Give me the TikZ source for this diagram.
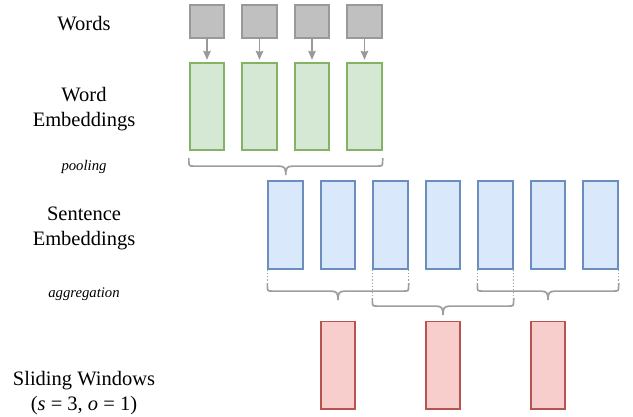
\documentclass[tikz,border=0pt]{standalone}
\usepackage{fontspec}
\setmainfont{Liberation Serif}
\usetikzlibrary{calc,arrows.meta}
\definecolor{grayfill}{HTML}{C0C0C0}
\definecolor{graydraw}{HTML}{999999}
\definecolor{greenfill}{HTML}{D5E8D4}
\definecolor{greendraw}{HTML}{82B366}
\definecolor{bluefill}{HTML}{DAE8FC}
\definecolor{bluedraw}{HTML}{6C8EBF}
\definecolor{redfill}{HTML}{F8CECC}
\definecolor{reddraw}{HTML}{B85450}
\definecolor{bracecol}{HTML}{9E9E9E}
\newcommand\mybrace[4]{%
  \path ($(#1)+(0,#3)$) coordinate (bL) ($(#2)+(0,#3)$) coordinate (bR)
        ($(bL)!0.5!(bR)$) coordinate (bM);
  \draw[#4] (#1) -- (bL);
  \draw[#4] (#2) -- (bR);
  \draw[bracestyle] (bL) -- ($(bL)+(0,2)$) .. controls ($(bL)+(0,8)$) .. ($(bL)+(6,8)$)
    -- ($(bM)+(-7,8)$) .. controls ($(bM)+(-1,8)$) and ($(bM)+(0,10)$) .. ($(bM)+(0,17)$)
    .. controls ($(bM)+(0,10)$) and ($(bM)+(1,8)$) .. ($(bM)+(7,8)$)
    -- ($(bR)+(-6,8)$) .. controls ($(bR)+(0,8)$) .. ($(bR)+(0,2)$) -- (bR);
}
\begin{document}
\begin{tikzpicture}[x=1pt,y=-1pt,
  box/.style={rectangle,inner sep=0pt,minimum width=34.5pt,line width=1.8pt},
  wordbox/.style={box,minimum height=33.5pt,fill=grayfill,draw=graydraw},
  greenbox/.style={box,minimum height=87.5pt,fill=greenfill,draw=greendraw},
  bluebox/.style={box,minimum height=88.5pt,fill=bluefill,draw=bluedraw},
  redbox/.style={box,minimum height=87.5pt,fill=redfill,draw=reddraw},
  arr/.style={draw=graydraw,line width=1.8pt,shorten >=2pt,-{Stealth[length=9pt,width=7.5pt,inset=1pt]}},
  bracestyle/.style={draw=bracecol,line width=1.7pt},
  dotline/.style={draw=bracecol,line width=1.1pt,dotted},
  nodot/.style={draw=none},
  lab/.style={font=\rmfamily\fontsize{20.5}{25}\selectfont,align=center,anchor=base,inner sep=0pt},
  small/.style={font=\rmfamily\fontsize{14.7}{17}\selectfont\itshape,anchor=base,inner sep=0pt}]
\useasboundingbox (0,0) rectangle (633,417);

% labels
\node[lab] (lw) at (84,30.5) {Words};
\node[lab] (lwe) at (84,127) {Word\\Embeddings};
\node[small] (lp) at (84,171) {pooling};
\node[lab] (lse) at (84,246) {Sentence\\Embeddings};
\node[small] (la) at (84,298) {aggregation};
\node[lab] (lsw) at (84,410) {Sliding Windows\\(\textit{s}\ =\ 3,\ \textit{o}\ =\ 1)};

% words and word embeddings
\foreach \i in {1,...,4} {
  \pgfmathsetmacro\xx{207+52.5*(\i-1)}
  \node[wordbox] (w\i) at (\xx,21.5) {};
  \node[greenbox] (g\i) at (\xx,106.5) {};
  \draw[arr] (w\i) -- (g\i);
}
% sentence embeddings
\foreach \i in {1,...,7} {
  \pgfmathsetmacro\xx{285.5+52.5*(\i-1)}
  \node[bluebox] (b\i) at (\xx,225) {};
}
% sliding windows
\node[redbox] (r1) at (338,365.3) {};
\node[redbox] (r2) at (443,365.3) {};
\node[redbox] (r3) at (548,365.3) {};

% braces
\mybrace{g1.south west}{g4.south east}{7}{nodot}
\mybrace{b1.south west}{b3.south east}{13}{dotline}
\mybrace{b5.south west}{b7.south east}{13}{dotline}
\mybrace{b3.south west}{b5.south east}{28}{dotline}
\end{tikzpicture}
\end{document}
